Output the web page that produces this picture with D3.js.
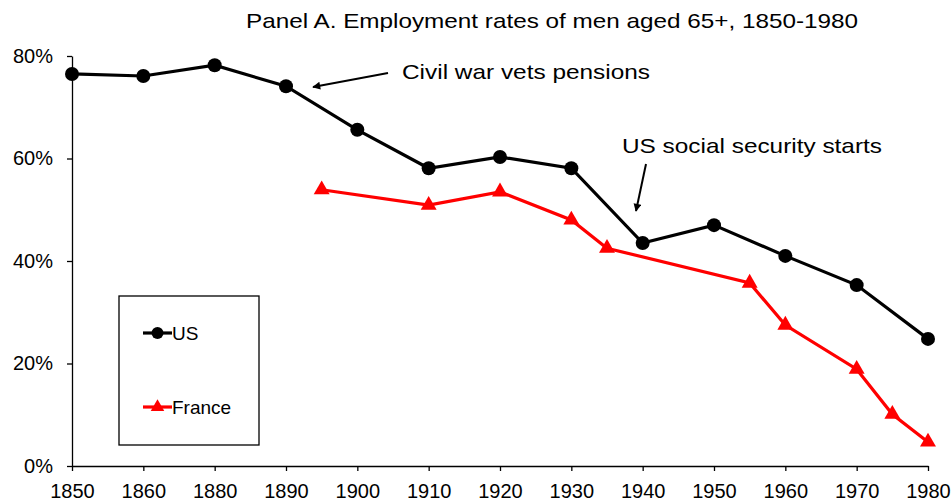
<!DOCTYPE html>
<html>
  <head>
    <meta charset="utf-8">
    <title>Employment rates of men aged 65+</title>
    <script src="https://cdn.jsdelivr.net/npm/d3@7"></script>
    <style>
      body { margin: 0; background: #fff; }
      svg { font-family: "Liberation Sans", Arial, sans-serif; }
      .axis text { font-size: 20px; fill: #000; }
      .axis path, .axis line { stroke: #000; stroke-width: 1.3; }
    </style>
  </head>
  <body>
    <svg id="chart" width="952" height="502"></svg>
    <script>
      // category years on the x axis (equally spaced, 1870 missing)
      var years = [1850, 1860, 1880, 1890, 1900, 1910, 1920, 1930, 1940, 1950, 1960, 1970, 1980];
      var yTicks = [0, 0.2, 0.4, 0.6, 0.8];

      var usYears = [1850, 1860, 1880, 1890, 1900, 1910, 1920, 1930, 1940, 1950, 1960, 1970, 1980];
      var usRates = [0.765, 0.761, 0.782, 0.741, 0.656, 0.581, 0.603, 0.581, 0.435, 0.470, 0.410, 0.353, 0.248];

      var frYears = [1895, 1910, 1920, 1930, 1935, 1955, 1960, 1970, 1975, 1980];
      var frRates = [0.539, 0.509, 0.535, 0.480, 0.425, 0.357, 0.275, 0.189, 0.101, 0.047];

      var margin = { top: 56, right: 24, bottom: 36, left: 72 };
      var width = 952, height = 502;

      var chart = d3.select("#chart");

      // piecewise scale so off-category years fall between the ticks
      var step = (width - margin.right - margin.left) / (years.length - 1);
      var x = d3.scaleLinear()
        .domain(years)
        .range(years.map(function(d, i) { return margin.left + i * step; }));
      var y = d3.scaleLinear()
        .domain([0, 0.8])
        .range([height - margin.bottom, margin.top]);

      var xAxis = d3.axisBottom(x)
        .tickValues(years)
        .tickFormat(d3.format("d"))
        .tickSizeInner(5)
        .tickSizeOuter(0)
        .tickPadding(13);
      var yAxis = d3.axisLeft(y)
        .tickValues(yTicks)
        .tickFormat(d3.format(".0%"))
        .tickSizeInner(5)
        .tickSizeOuter(0)
        .tickPadding(14);

      chart.append("g")
        .attr("class", "axis")
        .attr("transform", "translate(0," + (height - margin.bottom) + ")")
        .call(xAxis);
      chart.append("g")
        .attr("class", "axis")
        .attr("transform", "translate(" + margin.left + ",0)")
        .call(yAxis);

      // title
      chart.append("text")
        .attr("x", 246)
        .attr("y", 28)
        .attr("textLength", 612)
        .attr("lengthAdjust", "spacingAndGlyphs")
        .style("font-size", "21px")
        .text("Panel A. Employment rates of men aged 65+, 1850-1980");

      var line = d3.line()
        .x(function(d) { return x(d[0]); })
        .y(function(d) { return y(d[1]); });

      var usData = d3.zip(usYears, usRates);
      var frData = d3.zip(frYears, frRates);

      var triangle = d3.symbol().type(d3.symbolTriangle).size(110);

      // France
      chart.append("path")
        .datum(frData)
        .attr("d", line)
        .attr("fill", "none")
        .attr("stroke", "#ff0000")
        .attr("stroke-width", 3.2);
      chart.selectAll(".fr")
        .data(frData)
        .enter().append("path")
          .attr("class", "fr")
          .attr("d", triangle)
          .attr("fill", "#ff0000")
          .attr("transform", function(d) {
            return "translate(" + x(d[0]) + "," + y(d[1]) + ")";
          });

      // US
      chart.append("path")
        .datum(usData)
        .attr("d", line)
        .attr("fill", "none")
        .attr("stroke", "#000")
        .attr("stroke-width", 3.2);
      chart.selectAll(".us")
        .data(usData)
        .enter().append("circle")
          .attr("class", "us")
          .attr("r", 7)
          .attr("cx", function(d) { return x(d[0]); })
          .attr("cy", function(d) { return y(d[1]); });

      // arrow head marker
      chart.append("defs").append("marker")
        .attr("id", "arrow")
        .attr("viewBox", "0 0 10 10")
        .attr("refX", 9)
        .attr("refY", 5)
        .attr("markerWidth", 5)
        .attr("markerHeight", 4)
        .attr("orient", "auto")
        .attr("markerUnits", "strokeWidth")
        .append("path")
          .attr("d", "M0,0 L10,5 L0,10 z")
          .attr("fill", "#000");

      // annotations
      chart.append("text")
        .attr("x", 402)
        .attr("y", 79)
        .attr("textLength", 248)
        .attr("lengthAdjust", "spacingAndGlyphs")
        .style("font-size", "21px")
        .text("Civil war vets pensions");
      chart.append("line")
        .attr("x1", 388).attr("y1", 73)
        .attr("x2", 313).attr("y2", 87)
        .attr("stroke", "#000")
        .attr("stroke-width", 2)
        .attr("marker-end", "url(#arrow)");

      chart.append("text")
        .attr("x", 622)
        .attr("y", 153)
        .attr("textLength", 260)
        .attr("lengthAdjust", "spacingAndGlyphs")
        .style("font-size", "21px")
        .text("US social security starts");
      chart.append("line")
        .attr("x1", 646).attr("y1", 164)
        .attr("x2", 636).attr("y2", 211)
        .attr("stroke", "#000")
        .attr("stroke-width", 2)
        .attr("marker-end", "url(#arrow)");

      // legend
      var legend = chart.append("g").attr("transform", "translate(119,296)");
      legend.append("rect")
        .attr("width", 140)
        .attr("height", 149)
        .attr("fill", "none")
        .attr("stroke", "#000")
        .attr("stroke-width", 1.3);
      var keys = [
        { name: "US", colour: "#000", y: 37 },
        { name: "France", colour: "#ff0000", y: 111 }
      ];
      keys.forEach(function(k, i) {
        legend.append("line")
          .attr("x1", 24).attr("x2", 53)
          .attr("y1", k.y).attr("y2", k.y)
          .attr("stroke", k.colour)
          .attr("stroke-width", 3.2);
        if (i == 0) {
          legend.append("circle")
            .attr("cx", 38.5).attr("cy", k.y).attr("r", 6)
            .attr("fill", k.colour);
        } else {
          legend.append("path")
            .attr("d", d3.symbol().type(d3.symbolTriangle).size(80))
            .attr("transform", "translate(38.5," + k.y + ")")
            .attr("fill", k.colour);
        }
        legend.append("text")
          .attr("x", 53)
          .attr("y", k.y + 7)
          .style("font-size", "19px")
          .text(k.name);
      });
    </script>
  </body>
</html>
